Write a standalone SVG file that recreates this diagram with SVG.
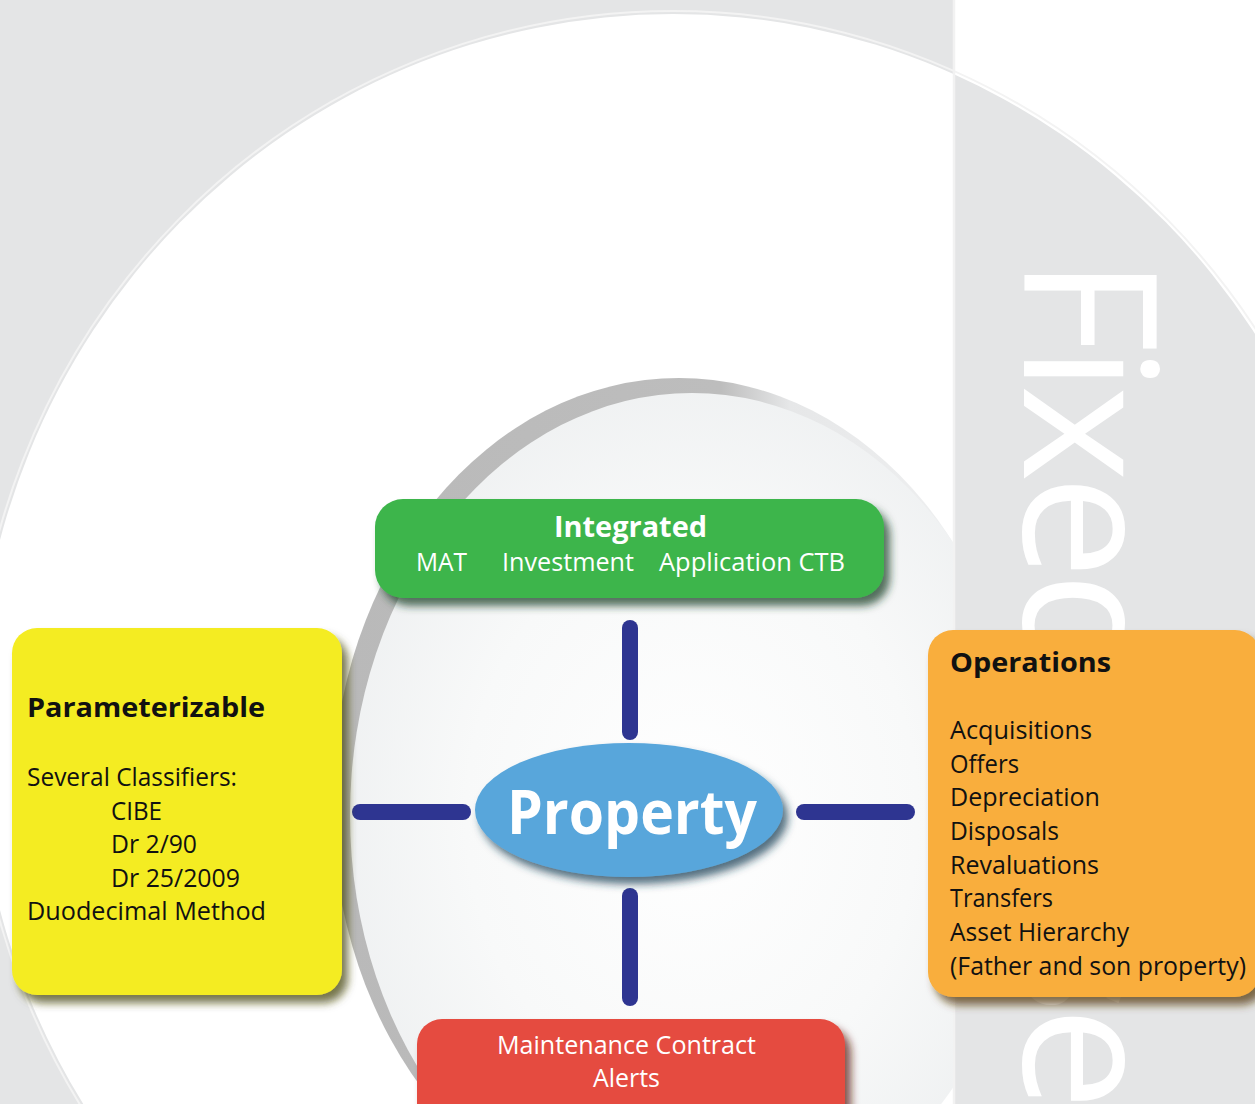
<svg xmlns="http://www.w3.org/2000/svg" width="1255" height="1104" viewBox="0 0 1255 1104">
<defs>
<style>
.t{font-family:"Open Sans","Noto Sans","Liberation Sans",sans-serif;}
.blk{fill:#111;font-size:26px;}
.wht{fill:#fff;}
.b{font-weight:700;}
.conn{stroke:#2e3591;stroke-width:16;stroke-linecap:round;fill:none;}
</style>
<radialGradient id="innerG" cx="0.5" cy="0.5" r="0.55">
<stop offset="0" stop-color="#ffffff"/>
<stop offset="0.6" stop-color="#f8f9f9"/>
<stop offset="1" stop-color="#eef0f1"/>
</radialGradient>
<linearGradient id="rimG" x1="0" y1="0" x2="1" y2="0">
<stop offset="0" stop-color="#b9b9b9"/>
<stop offset="0.56" stop-color="#bdbdbd"/>
<stop offset="0.66" stop-color="#e6e7e8"/>
<stop offset="1" stop-color="#f2f3f4"/>
</linearGradient>
<clipPath id="stripClip"><rect x="955" y="0" width="300" height="1104"/></clipPath>
<filter id="shY" x="-10%" y="-10%" width="125%" height="125%"><feDropShadow dx="6" dy="8" stdDeviation="4" flood-color="#4a4812" flood-opacity="0.75"/></filter>
<filter id="shG" x="-10%" y="-20%" width="125%" height="150%"><feDropShadow dx="6" dy="8" stdDeviation="4" flood-color="#1f4226" flood-opacity="0.75"/></filter>
<filter id="shO" x="-10%" y="-10%" width="125%" height="125%"><feDropShadow dx="6" dy="8" stdDeviation="4" flood-color="#5a3d10" flood-opacity="0.75"/></filter>
<filter id="shR" x="-10%" y="-20%" width="125%" height="150%"><feDropShadow dx="6" dy="8" stdDeviation="4" flood-color="#5a1d18" flood-opacity="0.75"/></filter>
<filter id="shP" x="-10%" y="-20%" width="125%" height="150%"><feDropShadow dx="5" dy="7" stdDeviation="4" flood-color="#1b3f57" flood-opacity="0.75"/></filter>
</defs>

<g id="background">
<rect x="0" y="0" width="1255" height="1104" fill="#e4e5e6"/>
<ellipse cx="673" cy="725" rx="700" ry="714" fill="none" stroke="#f3f3f3" stroke-width="2"/>
<ellipse cx="673" cy="725" rx="697" ry="711" fill="#ffffff"/>
<ellipse cx="679" cy="803" rx="347" ry="425" fill="url(#rimG)"/>
<ellipse cx="692" cy="815" rx="342" ry="422" fill="url(#innerG)"/>
<g clip-path="url(#stripClip)">
<rect x="955" y="0" width="300" height="1104" fill="#ffffff"/>
<ellipse cx="673" cy="725" rx="700" ry="714" fill="none" stroke="#f3f3f3" stroke-width="2"/>
<ellipse cx="673" cy="725" rx="697" ry="711" fill="#e4e5e6"/>
</g>
<line x1="954" y1="0" x2="954" y2="1104" stroke="#f2f2f2" stroke-width="2.5"/>
<text class="t" transform="translate(1024,257) rotate(90)" font-size="185" letter-spacing="-7" fill="#ffffff">Fixed<tspan dx="15"> Asse</tspan></text>
</g>

<g id="connectors">
<line class="conn" x1="630" y1="628" x2="630" y2="732"/>
<line class="conn" x1="630" y1="896" x2="630" y2="998"/>
<line class="conn" x1="360" y1="812" x2="463" y2="812"/>
<line class="conn" x1="804" y1="812" x2="907" y2="812"/>
</g>

<g id="node-integrated">
<rect x="375" y="499" width="509" height="99" rx="28" fill="#3db54b" filter="url(#shG)"/>
<text class="t wht b" x="554" y="537" font-size="28" textLength="153" lengthAdjust="spacingAndGlyphs">Integrated</text>
<text class="t wht" x="416" y="571" font-size="25" textLength="51" lengthAdjust="spacingAndGlyphs">MAT</text>
<text class="t wht" x="502" y="571" font-size="25" textLength="132" lengthAdjust="spacingAndGlyphs">Investment</text>
<text class="t wht" x="659" y="571" font-size="25" textLength="186" lengthAdjust="spacingAndGlyphs">Application CTB</text>
</g>

<g id="node-parameterizable">
<rect x="12" y="628" width="330" height="367" rx="25" fill="#f4ec24" filter="url(#shY)"/>
<text class="t blk b" x="27" y="717" font-size="29" textLength="238" lengthAdjust="spacingAndGlyphs">Parameterizable</text>
<text class="t blk" x="27" y="786" textLength="210" lengthAdjust="spacingAndGlyphs">Several Classifiers:</text>
<text class="t blk" x="111" y="820" textLength="51" lengthAdjust="spacingAndGlyphs">CIBE</text>
<text class="t blk" x="111" y="853" textLength="86" lengthAdjust="spacingAndGlyphs">Dr 2/90</text>
<text class="t blk" x="111" y="887" textLength="129" lengthAdjust="spacingAndGlyphs">Dr 25/2009</text>
<text class="t blk" x="27" y="920" textLength="239" lengthAdjust="spacingAndGlyphs">Duodecimal Method</text>
</g>

<g id="node-operations">
<rect x="928" y="630" width="332" height="367" rx="25" fill="#f9ae3c" filter="url(#shO)"/>
<text class="t blk b" x="950" y="672" font-size="28" textLength="161" lengthAdjust="spacingAndGlyphs">Operations</text>
<text class="t blk" x="950" y="739" textLength="142" lengthAdjust="spacingAndGlyphs">Acquisitions</text>
<text class="t blk" x="950" y="773" textLength="69" lengthAdjust="spacingAndGlyphs">Offers</text>
<text class="t blk" x="950" y="806" textLength="150" lengthAdjust="spacingAndGlyphs">Depreciation</text>
<text class="t blk" x="950" y="840" textLength="109" lengthAdjust="spacingAndGlyphs">Disposals</text>
<text class="t blk" x="950" y="874" textLength="149" lengthAdjust="spacingAndGlyphs">Revaluations</text>
<text class="t blk" x="950" y="907" textLength="103" lengthAdjust="spacingAndGlyphs">Transfers</text>
<text class="t blk" x="950" y="941" textLength="179" lengthAdjust="spacingAndGlyphs">Asset Hierarchy</text>
<text class="t blk" x="950" y="975" textLength="296" lengthAdjust="spacingAndGlyphs">(Father and son property)</text>
</g>

<g id="node-property">
<ellipse cx="629" cy="810" rx="154" ry="67" fill="#58a6db" filter="url(#shP)"/>
<text class="t wht b" x="507" y="834" font-size="61" textLength="250" lengthAdjust="spacingAndGlyphs">Property</text>
</g>

<g id="node-maintenance">
<rect x="417" y="1019" width="428" height="110" rx="25" fill="#e54b40" filter="url(#shR)"/>
<text class="t wht" x="497" y="1054" font-size="26" textLength="259" lengthAdjust="spacingAndGlyphs">Maintenance Contract</text>
<text class="t wht" x="593" y="1087" font-size="26" textLength="67" lengthAdjust="spacingAndGlyphs">Alerts</text>
</g>
</svg>
